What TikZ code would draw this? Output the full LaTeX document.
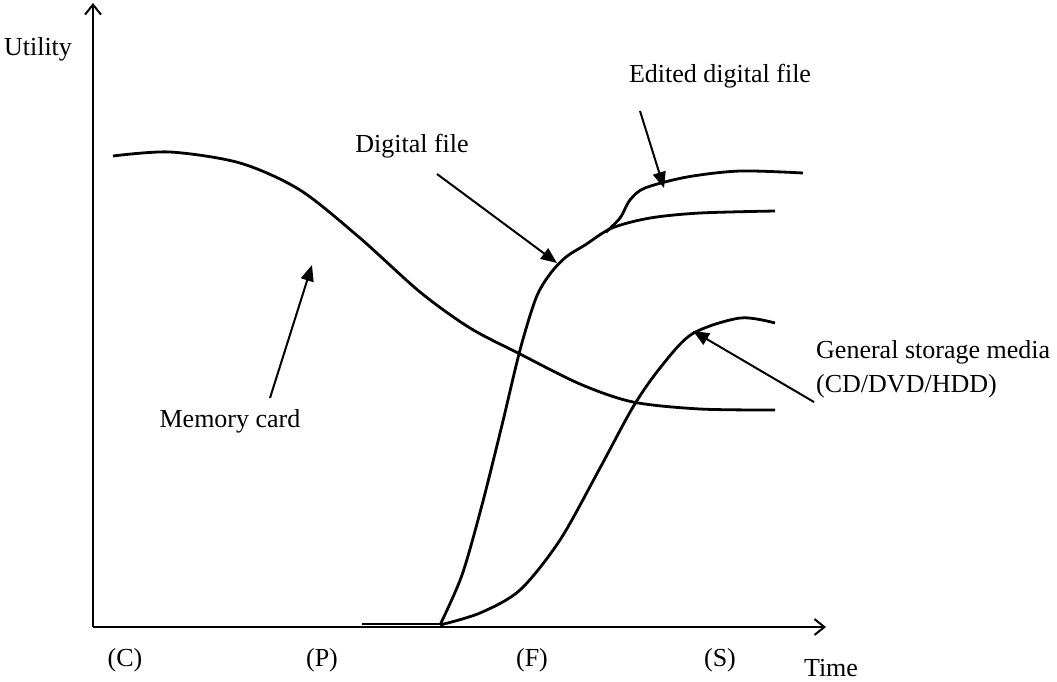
\documentclass[tikz,border=0pt]{standalone}
\usepackage{fontspec}
\setmainfont{Liberation Serif}
\usetikzlibrary{arrows.meta}
\begin{document}
\begin{tikzpicture}[
  x=1pt, y=-1pt,
  axis/.style={line width=2pt, -{Straight Barb[length=10pt, width=16pt, line width=2pt]}},
  curve/.style={line width=2.8pt, line join=round},
  pointer/.style={line width=2pt, -{Triangle[length=16pt, width=13pt]}},
  lbl/.style={font=\fontsize{26}{30}\selectfont, inner sep=0pt}
]
\useasboundingbox (0,0) rectangle (1057,681);

% axes
\coordinate (o) at (93,627);
\coordinate (ytop) at (93,3);
\coordinate (xend) at (826,627);
\draw[axis] (o) -- (ytop);
\draw[axis] (o) -- (xend);

% labels
\node[lbl] (utility) at (38,49) {Utility};
\node[lbl] (time) at (831,668) {Time};
\node[lbl] (c) at (125,660) {(C)};
\node[lbl] (p) at (322,660) {(P)};
\node[lbl] (f) at (532,660) {(F)};
\node[lbl] (s) at (720,660) {(S)};
\node[lbl] (memory) at (230,421) {Memory card};
\node[lbl] (digital) at (412,146) {Digital file};
\node[lbl] (edited) at (720,76) {Edited digital file};
\node[lbl, anchor=west] (general) at (816,352) {General storage media};
\node[lbl, anchor=west] (media) at (816,386) {(CD/DVD/HDD)};

% curves
\draw[curve] plot[smooth] coordinates {(113,156) (170,152) (240,163) (300,190) (360,238) (420,292) (470,328) (520,354) (580,384) (633,402) (700,409) (775,410)};
\draw[curve] (362,624) -- (440,624);
\draw[curve] plot[smooth] coordinates {(440,625) (462,575) (482,505) (502,425) (520,350) (536,298) (550,274) (566,257) (585,245) (612,228) (650,218) (700,213) (775,211)};
\draw[curve] plot[smooth] coordinates {(606,232) (620,218) (630,200) (645,188) (687,177) (740,171) (803,173)};
\draw[curve] plot[smooth] coordinates {(440,625) (480,613) (520,590) (560,540) (600,468) (633,407) (660,368) (692,334) (740,318) (775,323)};

% pointers
\coordinate (memtip) at (312,265);
\coordinate (digtip) at (557,263);
\coordinate (edtip) at (664,188);
\coordinate (gentip) at (693,331);
\draw[pointer] (270,398) -- (memtip);
\draw[pointer] (437,174) -- (digtip);
\draw[pointer] (640,111) -- (edtip);
\draw[pointer] (814,402) -- (gentip);

\end{tikzpicture}
\end{document}
